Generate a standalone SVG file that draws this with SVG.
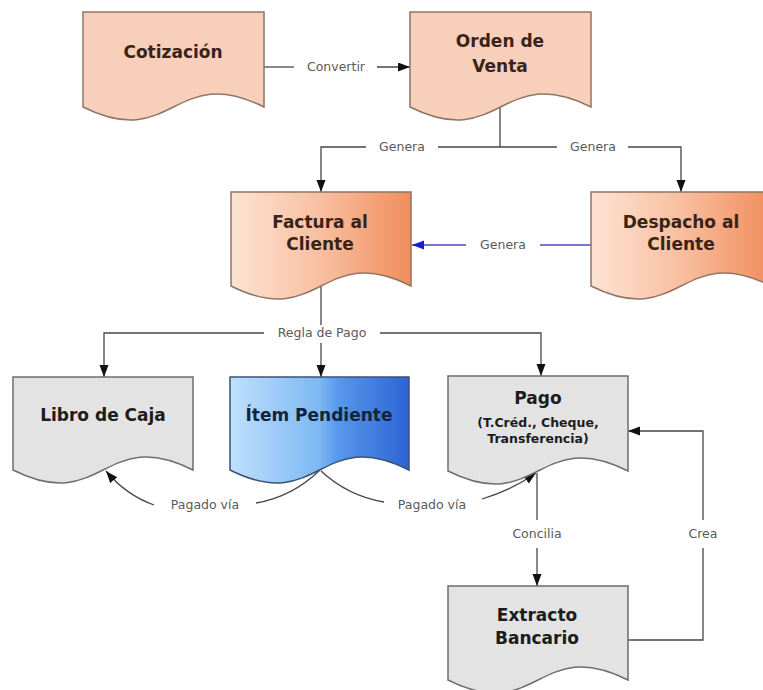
<svg xmlns="http://www.w3.org/2000/svg" width="763" height="690" viewBox="0 0 763 690">
<style>
.doc{stroke-width:1.5}
.peach{fill:#f7cfbb;stroke:#8f7565}
.grad{stroke:#8f7565}
.grey{fill:#e3e3e3;stroke:#6e6e6e}
.blue{stroke:#3d5272}
.t{font-family:"DejaVu Sans",sans-serif;font-weight:bold;font-size:17px;text-anchor:middle}
.tb{fill:#3a2418}
.tk{fill:#1c1c1c}
.ts{font-size:12.5px}
.lbl{font-family:"DejaVu Sans",sans-serif;font-size:12.5px;fill:#5a5a5a;text-anchor:middle}
.c{fill:none;stroke:#474747;stroke-width:1.3}
.cb{fill:none;stroke:#4a4ac8;stroke-width:1.3}
</style>
<defs>
<marker id="ah" markerUnits="userSpaceOnUse" markerWidth="12" markerHeight="10" refX="12" refY="4.5" orient="auto"><path d="M0,0 L12,4.5 L0,9 Z" fill="#111"/></marker>
<marker id="ahb" markerUnits="userSpaceOnUse" markerWidth="12" markerHeight="10" refX="12" refY="4.5" orient="auto"><path d="M0,0 L12,4.5 L0,9 Z" fill="#1a1ad0"/></marker>
<linearGradient id="gOr" x1="0" y1="0" x2="1" y2="0">
<stop offset="0" stop-color="#fde3d3"/><stop offset="0.5" stop-color="#f8bfa0"/><stop offset="1" stop-color="#f18d5d"/>
</linearGradient>
<linearGradient id="gBl" x1="0" y1="0" x2="1" y2="0">
<stop offset="0" stop-color="#bfe0fb"/><stop offset="0.5" stop-color="#7db8f3"/><stop offset="0.6" stop-color="#5898ec"/><stop offset="1" stop-color="#2c64d6"/>
</linearGradient>
</defs>
<rect width="763" height="690" fill="#fff"/>

<g id="connectors">
<path class="c" d="M264,67 H294"/>
<path class="c" d="M377,67 H410" marker-end="url(#ah)"/>
<path class="c" d="M500,107 V147 M438,147 H557"/>
<path class="c" d="M366,147 H321 V192" marker-end="url(#ah)"/>
<path class="c" d="M628,147 H681 V192" marker-end="url(#ah)"/>
<path class="cb" d="M591,245 H540"/>
<path class="cb" d="M466,245 H412" marker-end="url(#ahb)"/>
<path class="c" d="M321,286 V325"/>
<path class="c" d="M321,343 V377" marker-end="url(#ah)"/>
<path class="c" d="M264,333 H104 V377" marker-end="url(#ah)"/>
<path class="c" d="M380,333 H541 V376" marker-end="url(#ah)"/>
<path class="c" d="M320,470 Q292,497 256,503"/>
<path class="c" d="M154,505 Q126,495 106,471" marker-end="url(#ah)"/>
<path class="c" d="M321,471 Q348,496 384,502"/>
<path class="c" d="M482,499 Q512,490 536,473" marker-end="url(#ah)"/>
<path class="c" d="M537,473 V520"/>
<path class="c" d="M537,548 V586" marker-end="url(#ah)"/>
<path class="c" d="M628,640 H703 V548"/>
<path class="c" d="M703,520 V431 H628" marker-end="url(#ah)"/>
<text class="lbl" x="336" y="71">Convertir</text>
<text class="lbl" x="402" y="151">Genera</text>
<text class="lbl" x="593" y="151">Genera</text>
<text class="lbl" x="503" y="249">Genera</text>
<text class="lbl" x="322" y="337">Regla de Pago</text>
<text class="lbl" x="205" y="509">Pagado vía</text>
<text class="lbl" x="432" y="509">Pagado vía</text>
<text class="lbl" x="537" y="538">Concilia</text>
<text class="lbl" x="703" y="538">Crea</text>
</g>

<g id="cotizacion">
<path class="doc peach" d="M83,12 H264 V107 C173.5,62 173.5,152 83,107 Z"/>
<text class="t tb" x="173" y="58">Cotización</text>
</g>
<g id="orden-venta">
<path class="doc peach" d="M410,12 H591 V107 C500.5,62 500.5,152 410,107 Z"/>
<text class="t tb" x="500" y="47">Orden de</text>
<text class="t tb" x="500" y="72">Venta</text>
</g>
<g id="factura">
<path class="doc grad" fill="url(#gOr)" d="M231,192 H411 V286 C321,241 321,331 231,286 Z"/>
<text class="t tb" x="320" y="228">Factura al</text>
<text class="t tb" x="320" y="250">Cliente</text>
</g>
<g id="despacho">
<path class="doc grad" fill="url(#gOr)" d="M591,192 H771 V286 C681,241 681,331 591,286 Z"/>
<text class="t tb" x="681" y="228">Despacho al</text>
<text class="t tb" x="681" y="250">Cliente</text>
</g>
<g id="libro-caja">
<path class="doc grey" d="M13,377 H193 V470 C103,425 103,515 13,470 Z"/>
<text class="t tk" x="103" y="421">Libro de Caja</text>
</g>
<g id="item-pendiente">
<path class="doc blue" fill="url(#gBl)" d="M230,377 H409 V470 C319.5,425 319.5,515 230,470 Z"/>
<text class="t" fill="#14243a" x="319" y="421">Ítem Pendiente</text>
</g>
<g id="pago">
<path class="doc grey" d="M448,376 H628 V471 C538,426 538,516 448,471 Z"/>
<text class="t tk" x="538" y="404">Pago</text>
<text class="t tk ts" x="538" y="427">(T.Créd., Cheque,</text>
<text class="t tk ts" x="538" y="443">Transferencia)</text>
</g>
<g id="extracto">
<path class="doc grey" d="M448,586 H628 V680 C538,635 538,725 448,680 Z"/>
<text class="t tk" x="537" y="621">Extracto</text>
<text class="t tk" x="537" y="644">Bancario</text>
</g>
</svg>
